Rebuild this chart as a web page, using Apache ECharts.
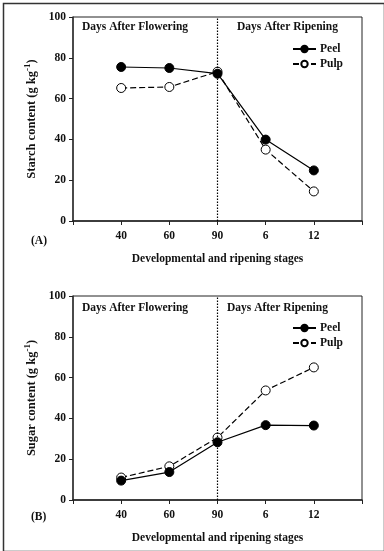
<!DOCTYPE html>
<html><head><meta charset="utf-8">
<script src="https://cdn.jsdelivr.net/npm/echarts@6/dist/echarts.min.js"></script>
<style>html,body{margin:0;padding:0;background:#fff}#c{width:384px;height:551px}</style>
</head><body><div id="c"></div>
<script>
var categories = ['40', '60', '90', '6', '12'];
var starchPeel = [75.5, 75.0, 72.2, 39.9, 24.8];
var starchPulp = [65.2, 65.7, 73.2, 35.0, 14.5];
var sugarPeel = [9.5, 13.7, 28.3, 36.7, 36.5];
var sugarPulp = [11.0, 16.5, 30.6, 53.7, 65.0];
var yTicks = [0, 20, 40, 60, 80, 100];

var FONT = '"Liberation Serif", "Times New Roman", serif';
function pairs(arr){ return arr.map(function(v,i){ return [i+1, v]; }); }

var chart = echarts.init(document.getElementById('c'), null, {renderer:'canvas'});
function xAxis(gi){
  return {
    gridIndex: gi, type: 'value', min: 0, max: 6, interval: 1,
    axisLine: {lineStyle: {color: '#222', width: 1.5}},
    axisTick: {show: true, length: 4, inside: false, lineStyle:{color:'#222'}},
    splitLine: {show: false},
    axisLabel: {fontFamily: FONT, fontWeight: 'bold', fontSize: 11.5, color: '#111', margin: 9,
      formatter: function(v){ return (v>=1 && v<=5) ? categories[v-1] : ''; }},
    name: 'Developmental and ripening stages', nameLocation: 'middle', nameGap: 32,
    nameTextStyle: {fontFamily: FONT, fontWeight: 'bold', fontSize: 11.5, color: '#111'}
  };
}
function yAxis(gi, label){
  return {
    gridIndex: gi, type: 'value', min: yTicks[0], max: yTicks[yTicks.length-1], interval: 20,
    axisLine: {show: true, lineStyle: {color: '#333', width: 1.5}},
    axisTick: {show: true, length: 4, lineStyle:{color:'#222'}},
    splitLine: {show: false},
    axisLabel: {fontFamily: FONT, fontWeight: 'bold', fontSize: 11.5, color: '#111', margin: 7},
    name: '{a|' + label + ' (g kg}{s|-1}{a|)}', nameLocation: 'middle', nameGap: 33, nameRotate: 90,
    nameTextStyle: {rich: {
      a: {fontFamily: FONT, fontWeight: 'bold', fontSize: 12.5, color: '#111'},
      s: {fontFamily: FONT, fontWeight: 'bold', fontSize: 9, color: '#111', padding: [0,0,7,0]}
    }}
  };
}
function series(name, data, gi, dashed, withLine){
  var s = {
    name: name, type: 'line', xAxisIndex: gi, yAxisIndex: gi, data: pairs(data),
    symbol: 'circle', symbolSize: 9,
    itemStyle: {color: dashed ? '#fff' : '#000', borderColor: '#000', borderWidth: 1},
    lineStyle: {color: '#000', width: 1.2, type: dashed ? [6,3] : 'solid'},
    z: dashed ? 3 : 4
  };
  if (withLine) {
    s.markLine = {silent: true, symbol: 'none', label: {show: false},
      lineStyle: {color: '#000', type: [1.5,1.5], width: 1.2},
      data: [{xAxis: 3}]};
  }
  return s;
}
function txt(x, y, t){
  return {type: 'text', left: x, top: y, style: {text: t, font: 'bold 11.5px ' + FONT, fill: '#111'}};
}
var legendBase = {orient: 'vertical', left: 292, itemWidth: 23, itemHeight: 8, itemGap: 3, padding: 0,
  data: ['Peel', 'Pulp'], textStyle: {fontFamily: FONT, fontWeight: 'bold', fontSize: 11.5, lineHeight: 10, color: '#111', padding: [0,0,0,-1]}};
chart.setOption({
  animation: false,
  grid: [
    {left: 73, top: 17, width: 289, height: 204, show: true, borderColor: '#222', borderWidth: 1},
    {left: 73, top: 296, width: 289, height: 204, show: true, borderColor: '#222', borderWidth: 1}
  ],
  xAxis: [xAxis(0), xAxis(1)],
  yAxis: [yAxis(0, 'Starch content'), yAxis(1, 'Sugar content')],
  legend: [
    Object.assign({}, legendBase, {top: 43}),
    Object.assign({}, legendBase, {top: 322})
  ],
  graphic: [
    {type: 'rect', left: 1, top: 1, shape: {width: 381, height: 548}, style: {fill: 'none', stroke: '#333', lineWidth: 1.5}},
    txt(82, 21, 'Days After Flowering'),
    txt(237, 21, 'Days After Ripening'),
    txt(82, 302, 'Days After Flowering'),
    txt(227, 302, 'Days After Ripening'),
    txt(31, 235, '(A)'),
    txt(31, 511, '(B)')
  ],
  series: [
    series('Peel', starchPeel, 0, false, true),
    series('Pulp', starchPulp, 0, true, false),
    series('Peel', sugarPeel, 1, false, true),
    series('Pulp', sugarPulp, 1, true, false)
  ]
});
</script></body></html>
